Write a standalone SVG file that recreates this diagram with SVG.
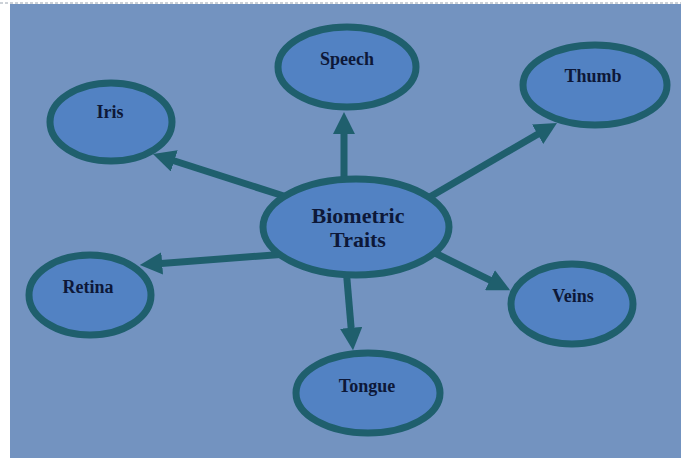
<svg xmlns="http://www.w3.org/2000/svg" width="681" height="458" viewBox="0 0 681 458">
<defs>
<style>
.bg{fill:#7393c0}
.node ellipse{fill:#5282c3;stroke:#1f5f6d;stroke-width:7}
.node text{font-family:"Liberation Serif","Times New Roman",serif;font-weight:bold;font-size:18px;fill:#0d1838;text-anchor:middle}
#center text{font-size:22px}
.conn line{stroke:#1f5f6d;stroke-width:7;marker-end:url(#arr)}
</style>
<marker id="arr" viewBox="0 0 10 10" refX="2" refY="5" markerWidth="3.2" markerHeight="3.2" orient="auto">
<path d="M0,0 L10,5 L0,10 z" fill="#1f5f6d"/>
</marker>
</defs>
<rect x="0" y="0" width="681" height="458" fill="#ffffff"/>
<rect class="bg" x="10" y="4" width="671" height="454"/>
<line x1="0" y1="3" x2="681" y2="3" stroke="#9aa4b0" stroke-width="1" stroke-dasharray="3,2"/>
<g id="connectors" class="conn">
<line x1="290" y1="198" x2="170" y2="159.5"/>
<line x1="344" y1="186" x2="344" y2="130"/>
<line x1="428" y1="198" x2="541.5" y2="132"/>
<line x1="287" y1="254" x2="157.7" y2="263.7"/>
<line x1="433" y1="252" x2="494" y2="282.2"/>
<line x1="346" y1="268" x2="351.5" y2="332.3"/>
</g>
<g id="center" class="node">
<ellipse cx="356" cy="227" rx="93" ry="48"/>
<text x="358" y="223">Biometric</text>
<text x="358" y="247">Traits</text>
</g>
<g id="iris" class="node">
<ellipse cx="111" cy="122" rx="61" ry="39"/>
<text x="110" y="118">Iris</text>
</g>
<g id="speech" class="node">
<ellipse cx="347" cy="67" rx="69" ry="40"/>
<text x="347" y="65">Speech</text>
</g>
<g id="thumb" class="node">
<ellipse cx="595" cy="85" rx="72" ry="40"/>
<text x="593" y="82">Thumb</text>
</g>
<g id="retina" class="node">
<ellipse cx="90" cy="295" rx="61" ry="40"/>
<text x="88" y="293">Retina</text>
</g>
<g id="veins" class="node">
<ellipse cx="572" cy="304" rx="61" ry="40"/>
<text x="573" y="302">Veins</text>
</g>
<g id="tongue" class="node">
<ellipse cx="368" cy="393" rx="72" ry="40"/>
<text x="367" y="392">Tongue</text>
</g>
</svg>
